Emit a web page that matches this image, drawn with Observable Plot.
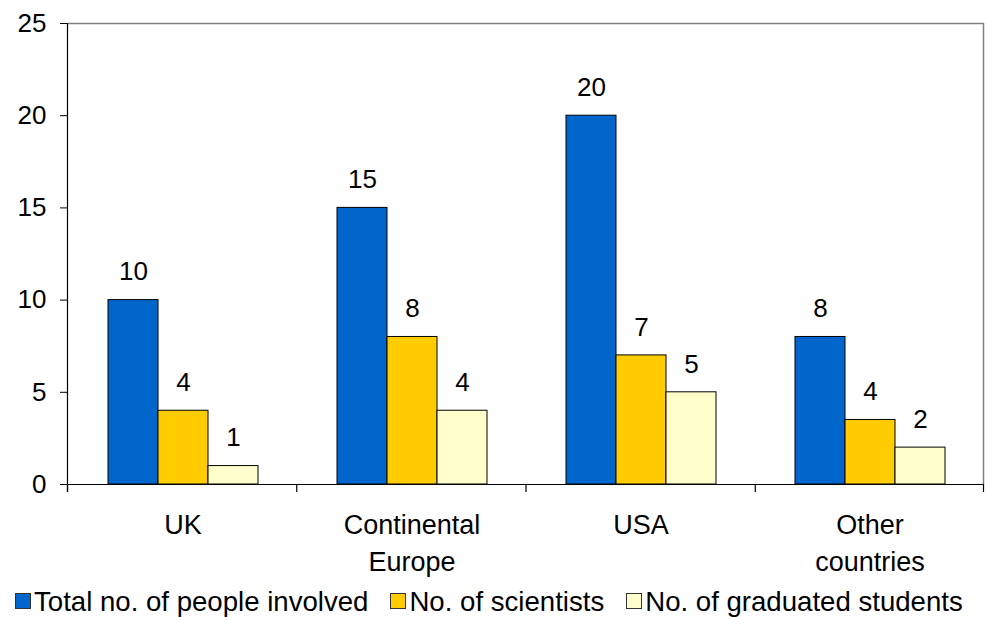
<!DOCTYPE html>
<html>
<head>
<meta charset="utf-8">
<script src="https://cdn.jsdelivr.net/npm/d3@7"></script>
<script src="https://cdn.jsdelivr.net/npm/@observablehq/plot@0.6"></script>
<style>
  html, body { margin: 0; padding: 0; background: #fff; }
  #chart { width: 987px; }
  .legend { display: flex; align-items: center; height: 31px; margin-left: 15px;
            font-family: "Liberation Sans", Arial, sans-serif; font-size: 27.6px; line-height: 31px; color: #000; }
  .legend .item { display: flex; align-items: center; margin-right: 22px; }
  .legend .sw { width: 14px; height: 14px; border: 1px solid #333; margin-right: 3px; margin-top: -2px; }
</style>
</head>
<body>
<div id="chart"></div>
<script>
const categories = ["UK", "Continental\nEurope", "USA", "Other\ncountries"];
const seriesNames = ["Total no. of people involved", "No. of scientists", "No. of graduated students"];
const totalValues = [10, 15, 20, 8];
const scientistValues = [4, 8, 7, 3.5];
const studentValues = [1, 4, 5, 2];
const totalLabels = ["10", "15", "20", "8"];
const scientistLabels = ["4", "8", "7", "4"];
const studentLabels = ["1", "4", "5", "2"];
const seriesColors = ["#0066CC", "#FFCC00", "#FFFFCC"];
const yTicks = [0, 5, 10, 15, 20, 25];

const valuesBySeries = [totalValues, scientistValues, studentValues];
const labelsBySeries = [totalLabels, scientistLabels, studentLabels];
const data = categories.flatMap((c, i) => seriesNames.map((s, k) => ({
  category: c, series: s, value: valuesBySeries[k][i], label: labelsBySeries[k][i]
})));

const chart = Plot.plot({
  width: 987,
  height: 586,
  marginLeft: 67,
  marginRight: 3,
  marginTop: 23,
  marginBottom: 102,
  style: { fontFamily: "'Liberation Sans', Arial, sans-serif", fontSize: "26px", background: "white", color: "black", overflow: "visible" },
  fx: { domain: categories, padding: 0, label: null },
  x: { domain: seriesNames, paddingInner: 0, paddingOuter: 0.75, axis: null },
  y: { domain: [0, 25], label: null },
  color: { domain: seriesNames, range: seriesColors },
  marks: [
    Plot.axisY({ ticks: yTicks, tickSize: 8, tickPadding: 14, fontSize: 26, label: null }),
    Plot.axisFx({ anchor: "bottom", tickSize: 0, tickPadding: 23, fontSize: 27, lineHeight: 1.37, label: null }),
    Plot.ruleY([25], { stroke: "#808080", strokeWidth: 1.5 }),
    Plot.barY(data, { fx: "category", x: "series", y: "value", fill: "series", stroke: "black", strokeWidth: 1 }),
    Plot.text(data, { fx: "category", x: "series", y: "value", text: "label", dy: -28, fontSize: 26 }),
    Plot.ruleY([0], { stroke: "black", strokeWidth: 1.2 })
  ]
});

document.getElementById("chart").appendChild(chart);

// frame lines and category boundary ticks derived from the plot's scales
const fxScale = chart.scale("fx");
const yScale = chart.scale("y");
const [x0, x1] = fxScale.range;
const yBase = yScale.range[0];
const yTop = yScale.range[1];
const n = fxScale.domain.length;
const step = (x1 - x0) / n;
const g = d3.select(chart).append("g");
g.append("line").attr("x1", x1 - 0.5).attr("x2", x1 - 0.5).attr("y1", yTop).attr("y2", yBase)
  .attr("stroke", "#808080").attr("stroke-width", 1.5);
g.append("line").attr("x1", x0 + 0.5).attr("x2", x0 + 0.5).attr("y1", yTop).attr("y2", yBase + 8)
  .attr("stroke", "black").attr("stroke-width", 1.2);
d3.range(n + 1).forEach(i => {
  const x = Math.min(x0 + i * step, x1 - 1) + 0.5;
  g.append("line").attr("x1", x).attr("x2", x).attr("y1", yBase).attr("y2", yBase + 8)
    .attr("stroke", "black").attr("stroke-width", 1.2);
});

// legend
const legend = d3.select("body").append("div").attr("class", "legend");
seriesNames.forEach((s, k) => {
  const item = legend.append("div").attr("class", "item");
  item.append("div").attr("class", "sw").style("background", seriesColors[k]);
  item.append("span").text(s);
});
</script>
</body>
</html>
